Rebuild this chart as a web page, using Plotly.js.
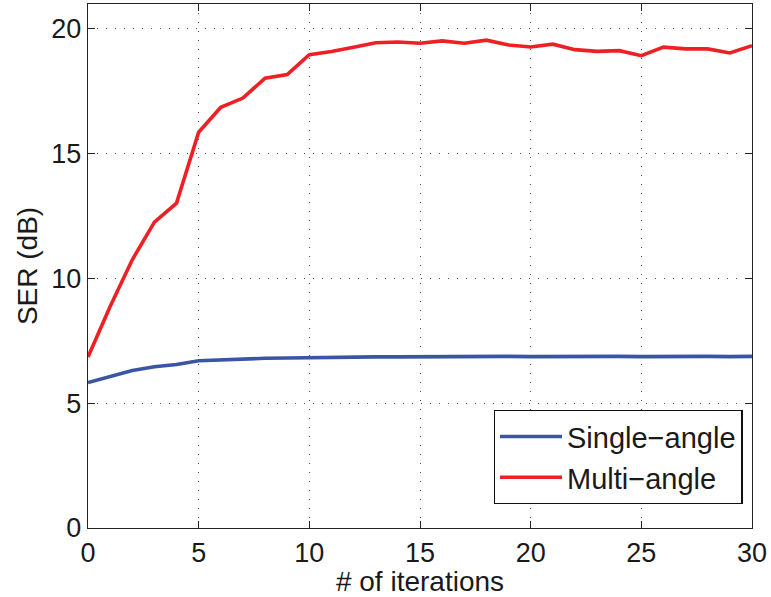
<!DOCTYPE html>
<html><head><meta charset="utf-8">
<script src="https://cdn.plot.ly/plotly-3.0.1.min.js"></script>
<style>html,body{margin:0;padding:0;background:#fff}#chart{width:771px;height:597px}</style>
</head><body><div id="chart"></div>
<script>
const iterations = [0,1,2,3,4,5,6,7,8,9,10,11,12,13,14,15,16,17,18,19,20,21,22,23,24,25,26,27,28,29,30];
const singleAngle = [5.83,6.08,6.31,6.46,6.55,6.70,6.74,6.77,6.80,6.81,6.83,6.85,6.86,6.86,6.86,6.87,6.87,6.87,6.88,6.88,6.87,6.88,6.88,6.88,6.88,6.87,6.88,6.88,6.88,6.87,6.88];
const multiAngle = [6.85,8.88,10.75,12.26,13.02,15.86,16.86,17.23,18.03,18.17,18.97,19.10,19.27,19.45,19.48,19.43,19.52,19.43,19.55,19.36,19.28,19.39,19.17,19.10,19.13,18.93,19.27,19.20,19.20,19.04,19.33];
const seriesNames = ['Single\u2212angle','Multi\u2212angle'];

const font = {family:'Liberation Sans, Arial, sans-serif', color:'#1a1a1a'};
const traces = [
  {x: iterations, y: singleAngle, name: seriesNames[0], mode:'lines', line:{color:'#3a55a4', width:3.6}},
  {x: iterations, y: multiAngle, name: seriesNames[1], mode:'lines', line:{color:'#ed2024', width:3.6}}
];
const axisCommon = {
  showline:true, linecolor:'#222', linewidth:1.3, mirror:'ticks',
  ticks:'inside', ticklen:7, tickcolor:'#222',
  showgrid:true, gridcolor:'#555', griddash:'1px,8px', gridwidth:1,
  zeroline:false, tickfont:{...font, size:27}
};
const layout = {
  width:771, height:597,
  margin:{l:88, r:19, t:4, b:69},
  paper_bgcolor:'#fff', plot_bgcolor:'#fff',
  font: font,
  showlegend:true,
  xaxis:{...axisCommon, range:[0,30], dtick:5, tick0:0, ticklabelstandoff:0,
    title:{text:'# of iterations', font:{...font, size:28}, standoff:0}},
  yaxis:{...axisCommon, range:[0,21], tickvals:[0,5,10,15,20], ticktext:['0','5','10','15','20'],
    title:{text:'SER (dB)', font:{...font, size:28}, standoff:5}},
  legend:{x:0.611, y:0.046, xanchor:'left', yanchor:'bottom',
    bgcolor:'#fff', bordercolor:'#111', borderwidth:1.3,
    font:{...font, size:29}, tracegroupgap:0, itemwidth:62}
};
Plotly.newPlot('chart', traces, layout, {displayModeBar:false, staticPlot:true});
</script></body></html>
